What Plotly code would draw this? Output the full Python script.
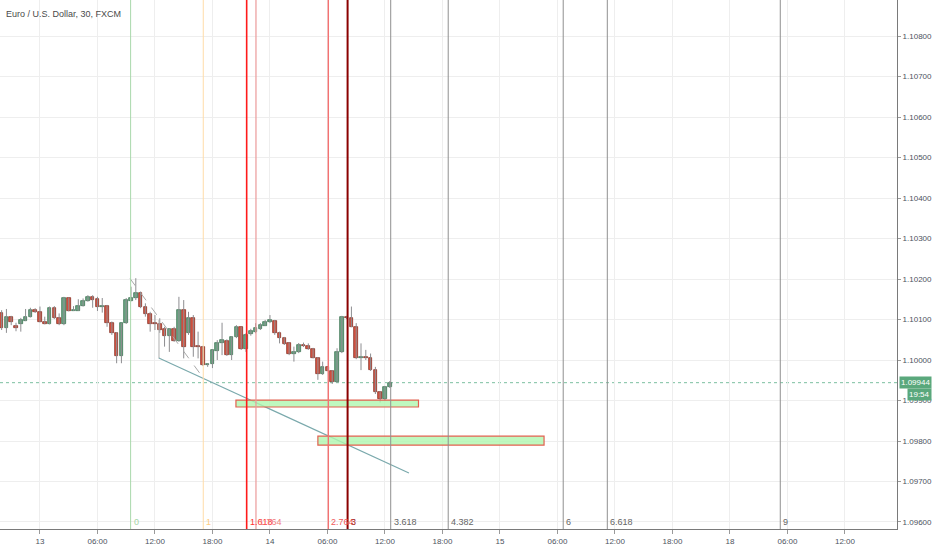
import numpy as np
import pandas as pd
import plotly.graph_objects as go

# EUR/USD 30 min bars, 12 Nov 20:00 -> 14 Nov 12:30 (2019)
bar_times = pd.date_range("2019-11-12 20:00", periods=82, freq="30min")
hours = ((bar_times - pd.Timestamp("2019-11-13")).total_seconds() / 3600).to_numpy()

opens = [1.10115, 1.10080, 1.10105, 1.10084, 1.10089, 1.10097, 1.10107, 1.10123, 1.10118, 1.10093,
         1.10090, 1.10128, 1.10104, 1.10088, 1.10152, 1.10122, 1.10121, 1.10134, 1.10146, 1.10155,
         1.10151, 1.10132, 1.10134, 1.10092, 1.10066, 1.10010, 1.10091, 1.10146, 1.10152, 1.10166,
         1.10130, 1.10114, 1.10089, 1.10089, 1.10076, 1.10060, 1.10077, 1.10048, 1.10123, 1.10067,
         1.10103, 1.10033, 1.10033, 1.09988, 1.09990, 1.10023, 1.10043, 1.10048, 1.10012, 1.10056,
         1.10081, 1.10026, 1.10063, 1.10070, 1.10077, 1.10085, 1.10094, 1.10097, 1.10066, 1.10054,
         1.10041, 1.10015, 1.10019, 1.10037, 1.10035, 1.10026, 1.10006, 1.09965, 1.09982, 1.09974,
         1.09946, 1.10019, 1.10107, 1.10103, 1.10082, 1.10004, 1.10006, 1.10006, 1.09975, 1.09920,
         1.09903, 1.09933]
highs = [1.10123, 1.10126, 1.10109, 1.10092, 1.10104, 1.10126, 1.10129, 1.10128, 1.10132, 1.10107,
         1.10132, 1.10133, 1.10115, 1.10156, 1.10154, 1.10133, 1.10150, 1.10152, 1.10160, 1.10160,
         1.10156, 1.10153, 1.10136, 1.10095, 1.10069, 1.10091, 1.10153, 1.10181, 1.10202, 1.10169,
         1.10140, 1.10119, 1.10111, 1.10103, 1.10082, 1.10078, 1.10082, 1.10156, 1.10148, 1.10119,
         1.10111, 1.10070, 1.10035, 1.09992, 1.10026, 1.10049, 1.10092, 1.10051, 1.10059, 1.10086,
         1.10082, 1.10066, 1.10077, 1.10091, 1.10091, 1.10099, 1.10111, 1.10099, 1.10070, 1.10057,
         1.10044, 1.10033, 1.10042, 1.10043, 1.10041, 1.10030, 1.10007, 1.09996, 1.09983, 1.09975,
         1.10029, 1.10109, 1.10109, 1.10132, 1.10091, 1.10041, 1.10025, 1.10016, 1.09983, 1.09923,
         1.09936, 1.09948]
lows = [1.10074, 1.10067, 1.10086, 1.10071, 1.10070, 1.10096, 1.10105, 1.10116, 1.10093, 1.10088,
        1.10088, 1.10101, 1.10086, 1.10086, 1.10120, 1.10121, 1.10121, 1.10132, 1.10144, 1.10129,
        1.10121, 1.10117, 1.10082, 1.10062, 1.09992, 1.09992, 1.10089, 1.10145, 1.10148, 1.10128,
        1.10107, 1.10070, 1.10074, 1.10067, 1.10033, 1.10020, 1.10045, 1.10045, 1.10004, 1.10062,
        1.10008, 1.10004, 1.09985, 1.09983, 1.09980, 1.10000, 1.10012, 1.10010, 1.10000, 1.10054,
        1.10025, 1.10020, 1.10060, 1.10066, 1.10074, 1.10084, 1.10091, 1.10062, 1.10041, 1.10037,
        1.10012, 1.09996, 1.10017, 1.10032, 1.10025, 1.10004, 1.09951, 1.09963, 1.09973, 1.09941,
        1.09944, 1.10017, 1.10101, 1.10081, 1.10002, 1.09975, 1.10000, 1.09973, 1.09916, 1.09895,
        1.09899, 1.09931]
closes = [1.10080, 1.10107, 1.10093, 1.10078, 1.10099, 1.10107, 1.10123, 1.10119, 1.10095, 1.10089,
          1.10128, 1.10103, 1.10088, 1.10152, 1.10122, 1.10123, 1.10133, 1.10146, 1.10156, 1.10148,
          1.10132, 1.10134, 1.10092, 1.10066, 1.10010, 1.10091, 1.10148, 1.10152, 1.10166, 1.10130,
          1.10114, 1.10089, 1.10088, 1.10074, 1.10060, 1.10076, 1.10048, 1.10123, 1.10033, 1.10103,
          1.10031, 1.10031, 1.09988, 1.09989, 1.10025, 1.10043, 1.10049, 1.10012, 1.10056, 1.10081,
          1.10026, 1.10062, 1.10072, 1.10078, 1.10086, 1.10095, 1.10099, 1.10066, 1.10054, 1.10040,
          1.10015, 1.10020, 1.10037, 1.10035, 1.10026, 1.10006, 1.09965, 1.09982, 1.09974, 1.09946,
          1.10019, 1.10107, 1.10103, 1.10082, 1.10004, 1.10006, 1.10005, 1.09975, 1.09920, 1.09903,
          1.09933, 1.09944]

last_price = 1.09944
countdown = "19:54"

# x axis ticks (hours from 13 Nov 00:00, weekend collapsed)
tick_hours = [0, 6, 12, 18, 24, 30, 36, 42, 48, 54, 60, 66, 72, 78, 84]
tick_text = ["13", "06:00", "12:00", "18:00", "14", "06:00", "12:00", "18:00",
             "15", "06:00", "12:00", "18:00", "18", "06:00", "12:00"]
price_ticks = [1.096, 1.097, 1.098, 1.099, 1.100, 1.101, 1.102, 1.103, 1.104, 1.105, 1.106, 1.107, 1.108]

# fib time zones
fib_labels = ["0", "1", "1.618", "1.764", "2.764", "3", "3.618", "4.382", "6", "6.618", "9"]
fib_hours = [9.46, 17.04, 21.57, 22.54, 30.09, 32.1, 36.6, 42.6, 54.6, 59.2, 77.25]
fib_colors = ["#a9d8ab", "#ffdca8", "#ff1a1a", "#eb9a9a", "#f47272", "#8b0000",
              "#909090", "#909090", "#909090", "#909090", "#909090"]
fib_text = ["#a5d6a7", "#ffcc80", "#ff3030", "#f08080", "#f05a5a", "#a01010",
            "#666666", "#666666", "#666666", "#666666", "#666666"]
fib_widths = [1, 1, 1.6, 1.2, 1.4, 2, 1, 1, 1, 1, 1]

# drawn boxes: (start hour, end hour, top price, bottom price)
boxes = [(20.45, 39.5, 1.09901, 1.09884),
         (29.0, 52.6, 1.09812, 1.09790)]

# trend line and helper lines
trend_x, trend_y = [12.4, 38.5], [1.10005, 1.09721]
dash_x, dash_y = [9.4, 17.0], [1.10201, 1.09957]
stem_x, stem_y = [12.42, 12.42], [1.10099, 1.10004]

FONT = "Liberation Sans"

o = np.array(opens); c = np.array(closes)
h = np.array(highs); l = np.array(lows)
up = c >= o
body_base = np.minimum(o, c)
body_len = np.maximum(np.abs(c - o), 0.000025)

fig = go.Figure()

# wicks
wx, wy = [], []
for t, hi, lo in zip(hours, h, l):
    wx += [t, t, None]
    wy += [hi, lo, None]
fig.add_trace(go.Scatter(x=wx, y=wy, mode="lines", line=dict(color="#8d8d90", width=1),
                         hoverinfo="skip", showlegend=False))

fig.add_trace(go.Bar(x=hours[up], y=body_len[up], base=body_base[up], width=0.38,
                     marker=dict(color="#6ba583", line=dict(color="#2f6a48", width=0.7)),
                     showlegend=False))
fig.add_trace(go.Bar(x=hours[~up], y=body_len[~up], base=body_base[~up], width=0.38,
                     marker=dict(color="#d75442", line=dict(color="#7a2418", width=0.7)),
                     showlegend=False))

# dashed helper, stem and trend line
fig.add_trace(go.Scatter(x=dash_x, y=dash_y, mode="lines", line=dict(color="#a8a8a8", width=1, dash="dash"),
                         hoverinfo="skip", showlegend=False))
fig.add_trace(go.Scatter(x=stem_x, y=stem_y, mode="lines", line=dict(color="#b0b0b0", width=1),
                         hoverinfo="skip", showlegend=False))
fig.add_trace(go.Scatter(x=trend_x, y=trend_y, mode="lines", line=dict(color="#7aa9ac", width=1.2),
                         hoverinfo="skip", showlegend=False))

shapes = []
# price line
shapes.append(dict(type="line", xref="paper", x0=0, x1=1, yref="y", y0=last_price, y1=last_price,
                   line=dict(color="#7cbfa0", width=1, dash="dot"), layer="between"))
for (x0, x1, y0, y1) in boxes:
    shapes.append(dict(type="rect", xref="x", yref="y", x0=x0, x1=x1, y0=y0, y1=y1,
                       fillcolor="rgba(175,246,175,0.8)", line=dict(color="#e2604f", width=1.2),
                       layer="above"))
for t, col, w in zip(fib_hours, fib_colors, fib_widths):
    shapes.append(dict(type="line", xref="x", yref="paper", x0=t, x1=t, y0=0, y1=1,
                       line=dict(color=col, width=w), layer="above"))

annotations = []
for t, lab, col in zip(fib_hours, fib_labels, fib_text):
    annotations.append(dict(x=t, y=1.09600, xref="x", yref="y", text=lab, showarrow=False,
                            xanchor="left", yanchor="middle", xshift=1,
                            font=dict(color=col, size=9, family=FONT)))
annotations.append(dict(x=0, y=1, xref="paper", yref="paper", xanchor="left", yanchor="top",
                        xshift=4, yshift=-7, showarrow=False, text="Euro / U.S. Dollar, 30, FXCM",
                        font=dict(size=9, color="#4a4a4a", family=FONT)))
annotations.append(dict(x=1, y=last_price, xref="paper", yref="y", xanchor="left", yanchor="middle",
                        xshift=2, showarrow=False, text=f"{last_price:.5f}", bgcolor="#5aa87c",
                        borderpad=1, font=dict(size=8, color="white", family=FONT)))
annotations.append(dict(x=1, y=1.09914, xref="paper", yref="y", xanchor="left", yanchor="middle",
                        xshift=10, showarrow=False, text=countdown, bgcolor="#5aa87c",
                        borderpad=1, font=dict(size=8, color="white", family=FONT)))

fig.update_layout(
    width=932, height=550,
    margin=dict(l=0, r=35, t=0, b=21),
    plot_bgcolor="white", paper_bgcolor="white",
    barmode="overlay", bargap=0,
    shapes=shapes, annotations=annotations,
    showlegend=False,
    font=dict(family=FONT, size=8, color="#4c525e"),
    xaxis=dict(range=[-4.17, 89.43], tickmode="array", tickvals=tick_hours, ticktext=tick_text,
               showgrid=True, gridcolor="#eeeeee", zeroline=False, showline=True, linecolor="#7a7a7a",
               ticks="outside", ticklen=4, tickcolor="#9a9a9a", automargin=False,
               tickfont=dict(size=8, color="#4c525e")),
    yaxis=dict(range=[1.095827, 1.108889], side="right", tickmode="array", tickvals=price_ticks,
               tickformat=".5f", showgrid=True, gridcolor="#eeeeee", zeroline=False, showline=True,
               linecolor="#7a7a7a", ticks="outside", ticklen=3, tickcolor="#9a9a9a", automargin=False,
               tickfont=dict(size=8, color="#4c525e")),
)

fig.write_html("out.html", config={"displayModeBar": False},
               post_script="document.body.style.margin='0';")
